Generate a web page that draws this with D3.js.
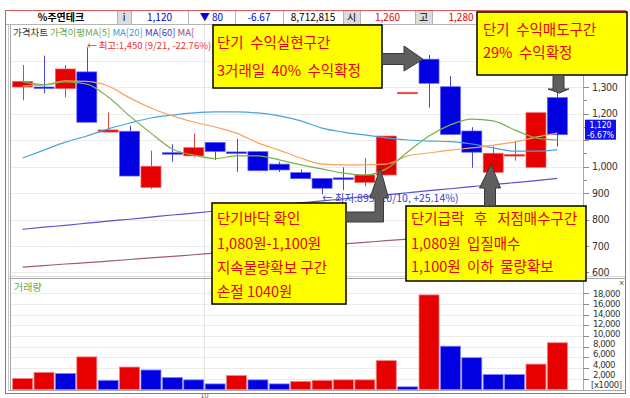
<!DOCTYPE html>
<html><head><meta charset="utf-8">
<script src="https://cdn.jsdelivr.net/npm/d3@7"></script>
<style>
body{margin:0;background:#fff;}
svg{display:block;}
text{font-family:"Liberation Sans",Arial,sans-serif;}
.kr{font-family:"Noto Sans CJK KR",sans-serif;}
.nar{font-family:"Liberation Sans Narrow","DejaVu Sans Condensed","Liberation Sans",sans-serif;}
</style></head><body>
<svg id="c" width="630" height="398"></svg>
<script>
// ---- data ----
const opens  = [1300,1300,1294,1357,1130,1133, 921,1052,1040,1091,1055,1056,1009, 977, 955, 957, 940, 968,1280,1405,1301,1134, 978,1042, 997,1260];
const highs  = [1383,1418,1383,1450,1204,1154,1060,1084,1125,1091,1104,1056,1018, 989, 955, 997,1031,1115,1280,1421,1341,1148,1077,1097,1203,1280];
const lows   = [1250,1276,1261,1167,1128, 964, 915,1018,1035,1024, 980, 984, 979, 954, 895, 911, 924, 968,1280,1222,1121, 995, 978,1022, 995,1075];
const closes = [1321,1296,1368,1167,1138, 964,1001,1048,1071,1057,1051, 984, 987, 954, 918, 953, 968,1115,1280,1314,1121,1054,1050,1045,1203,1120];
const volumes = [2050,3200,3000,6100,1700,4200,3650,2250,1800,1050,2600,1800,1050,1500,1700,1800,1800,5400,500,17700,8100,5950,2800,2800,4750,8750];
const volUp   = [1,1,0,1,0,1,0,0,0,0,1,0,0,1,1,1,1,1,0,1,0,0,0,0,1,1];
const ma5   = [1320,1308,1319,1311,1262,1191,1126,1066,1043,1030,1040,1040,1025,1006, 991, 975, 968, 991,1055,1115,1157,1179,1172,1138,1108,1100];
const ma10  = [1304,1308,1323,1321,1304,1259,1221,1191,1168,1149,1126,1089,1062,1032,1009,1006,1006,1009,1040,1051,1062,1070,1081,1092,1111,1126];
const ma20  = [1032,1062,1092,1115,1142,1164,1183,1194,1202,1206,1206,1202,1191,1172,1145,1130,1119,1108,1100,1096,1094,1085,1070,1058,1058,1064];
const ma60  = [ 763, 771, 778, 786, 794, 801, 809, 817, 824, 832, 840, 847, 855, 863, 870, 878, 886, 893, 901, 909, 916, 924, 932, 939, 947, 955];
const ma120 = [ 620, 626, 632, 637, 643, 649, 655, 661, 667, 673, 679, 685, 690, 696, 702, 708, 714, 720, 726, 732, 737, 743, 749, 755, 761, 767];
const priceTicks = [600,700,800,900,1000,1100,1200,1300,1400];
const hiddenPriceLabels = [1100,1400]; // covered by the price tag / note box in the reference
const volTicks = [2000,4000,6000,8000,10000,12000,14000,16000,18000];
const header = ["%주연테크","i","1,120","▼ 80","-6.67","8,712,815","시","1,260","고","1,280"];
const legendItems = ["가격이평MA[5]","MA[20]","MA[60]","MA["];
const monthLabel = "10";

const RED="#e60000", BLUE="#0000e0";
const svg=d3.select("#c");
const n=closes.length;
const x=d3.scaleBand().domain(d3.range(n)).range([12,568]).paddingInner(0.065).paddingOuter(0.03);
const bw=x.bandwidth();
const cx=i=>x(i)+bw/2;
const y=d3.scaleLinear().domain([1000,1300]).range([166.5,87]);
const vy=d3.scaleLinear().domain([0,18000]).range([389.5,293.3]);
const vyLab=d3.scaleLinear().domain([2000,18000]).range([374.5,293.5]);

svg.append("rect").attr("width",630).attr("height",398).attr("fill","#fff");

// grids
const grid=svg.append("g");
priceTicks.forEach(v=>grid.append("line").attr("x1",11).attr("x2",583).attr("y1",Math.round(y(v))+.5).attr("y2",Math.round(y(v))+.5).attr("stroke","#ececec"));
volTicks.forEach(v=>grid.append("line").attr("x1",11).attr("x2",583).attr("y1",Math.round(vy(v))+.5).attr("y2",Math.round(vy(v))+.5).attr("stroke","#ececec"));
const mx=Math.round(x(9)-(x.step()-bw)/2)+.5;
grid.append("line").attr("x1",mx).attr("x2",mx).attr("y1",25).attr("y2",390).attr("stroke","#e4e4e4");

// panel frames
svg.append("line").attr("x1",583.5).attr("x2",583.5).attr("y1",25).attr("y2",390).attr("stroke","#a8a8a8");
svg.append("line").attr("x1",8).attr("x2",626).attr("y1",278.5).attr("y2",278.5).attr("stroke","#a8a8a8");
svg.append("line").attr("x1",8).attr("x2",626).attr("y1",276.5).attr("y2",276.5).attr("stroke","#d8d8d8");
svg.append("line").attr("x1",8).attr("x2",626).attr("y1",390.5).attr("y2",390.5).attr("stroke","#a8a8a8");
svg.append("line").attr("x1",8.5).attr("x2",8.5).attr("y1",24).attr("y2",391).attr("stroke","#c8c8c8");
svg.append("line").attr("x1",10.5).attr("x2",10.5).attr("y1",24).attr("y2",391).attr("stroke","#a8a8a8");

// price axis
const pa=svg.append("g");
d3.range(600,1401,50).forEach(v=>{
  pa.append("line").attr("x1",584).attr("x2",v%100===0?589:587).attr("y1",Math.round(y(v))+.5).attr("y2",Math.round(y(v))+.5).attr("stroke","#888");
});
priceTicks.filter(v=>!hiddenPriceLabels.includes(v)).forEach(v=>pa.append("text").attr("class","nar").attr("x",592).attr("y",y(v)).attr("dy","0.36em")
  .attr("font-size",10.5).attr("letter-spacing","-0.3").attr("fill","#333").text(d3.format(",")(v)));
// volume axis
volTicks.forEach(v=>{
  pa.append("line").attr("x1",584).attr("x2",589).attr("y1",Math.round(vy(v))+.5).attr("y2",Math.round(vy(v))+.5).attr("stroke","#888");
  pa.append("text").attr("class","nar").attr("x",593).attr("y",vyLab(v)).attr("dy","0.34em").attr("font-size",9.5).attr("letter-spacing","-0.5").attr("fill","#333").text(d3.format(",")(v));
});
pa.append("text").attr("class","nar").attr("x",591).attr("y",385).attr("dy","0.34em").attr("font-size",9.5).attr("letter-spacing","-0.4").attr("fill","#333").text("[x1000]");
pa.append("text").attr("x",619).attr("y",286).attr("font-size",9).attr("fill","#555").text("×");

// volume bars
svg.append("g").selectAll("rect").data(volumes).join("rect")
  .attr("x",(d,i)=>x(i)).attr("width",bw).attr("y",d=>vy(d)).attr("height",d=>vy(0)-vy(d))
  .attr("fill",(d,i)=>volUp[i]?RED:BLUE).attr("stroke",(d,i)=>volUp[i]?"#f08080":"#8080ff").attr("stroke-width",0.8);
svg.append("text").attr("class","kr").attr("x",14).attr("y",287).attr("dy","0.35em").attr("font-size",10).attr("fill","#6aa84f").text("거래량");

// candles
const cg=svg.append("g");
closes.forEach((c,i)=>{
  const o=opens[i], up=c>=o, col=up?RED:BLUE;
  cg.append("line").attr("x1",Math.round(cx(i))+.5).attr("x2",Math.round(cx(i))+.5).attr("y1",y(highs[i])).attr("y2",y(lows[i]))
    .attr("stroke",up?"#e04040":"#4848d8").attr("stroke-width",1);
  const top=y(Math.max(o,c)), h=Math.max(1.5,Math.abs(y(o)-y(c)));
  cg.append("rect").attr("x",x(i)).attr("width",bw).attr("y",top).attr("height",h)
    .attr("fill",col).attr("stroke",up?"#f06060":"#6060ff").attr("stroke-width",0.7);
});

// moving averages
const line=d3.line().x((d,i)=>cx(i)).y(d=>y(d)).curve(d3.curveMonotoneX);
const maCols=["#78b04a","#4aa3de","#5555cc","#a05a78"];
[[ma120,maCols[3]],[ma60,maCols[2]],[ma20,maCols[1]],[ma10,"#f5a45e"],[ma5,maCols[0]]].forEach(([d,c])=>{
  svg.append("path").attr("d",line(d)).attr("fill","none").attr("stroke",c).attr("stroke-width",1.2);
});

// legend (its tail is hidden behind the first note box, as in the reference)
const lg=svg.append("text").attr("class","kr").attr("x",13).attr("y",36).attr("font-size",9.5).style("white-space","pre");
lg.append("tspan").attr("fill","#333").text("가격차트 ");
legendItems.forEach((t,i)=>lg.append("tspan").attr("fill",["#6aa84f","#3a9ad9","#3b3bc4","#9a4a6a"][i]).text(t+(i<3?" ":"")));
svg.append("text").attr("class","kr").attr("x",87).attr("y",46).attr("dy","0.35em").attr("font-size",9.5).attr("fill","#ee3333")
  .text("← 최고:1,450 (9/21, -22.76%)");
svg.append("text").attr("class","kr").attr("x",322).attr("y",198).attr("dy","0.35em").attr("font-size",10.5).attr("fill","#3c3cc8")
  .text("← 최저:895 (10/10, +25.14%)");

// current price tag
svg.append("rect").attr("x",585).attr("y",y(1120)-15).attr("width",31).attr("height",20).attr("fill","#1010f0");
svg.append("text").attr("class","nar").attr("x",600.5).attr("y",y(1120)-10).attr("dy","0.35em").attr("text-anchor","middle").attr("font-size",8.5).attr("fill","#fff").text("1,120");
svg.append("text").attr("class","nar").attr("x",600.5).attr("y",y(1120)).attr("dy","0.35em").attr("text-anchor","middle").attr("font-size",8.5).attr("fill","#fff").text("-6.67%");

// month label
svg.append("text").attr("x",mx).attr("y",397.5).attr("text-anchor","middle").attr("font-size",7).attr("fill","#555").text(monthLabel);

// header row
const cellX=[5,117,131,188,235,283,343,360,415,432,490];
const cellCol=["#000","#000",BLUE,BLUE,BLUE,"#000","#000",RED,"#000",RED];
const grey=[1,6,8];
const hg=svg.append("g");
header.forEach((t,i)=>{
  hg.append("rect").attr("x",cellX[i]+.5).attr("y",10.5).attr("width",cellX[i+1]-cellX[i]).attr("height",14)
    .attr("fill",grey.includes(i)?"#dcdcdc":"#fff").attr("stroke","#b4b4b4");
  hg.append("text").attr("class","kr").attr("x",(cellX[i]+cellX[i+1])/2).attr("y",17.5).attr("dy","0.35em").attr("text-anchor","middle")
    .attr("font-size",10).attr("font-weight",i===0?"bold":"normal").attr("fill",cellCol[i]).text(t);
});

// outer frame
svg.append("rect").attr("x",5.5).attr("y",10.5).attr("width",620).attr("height",383).attr("fill","none").attr("stroke","#d85a5a");

// annotation boxes
function box(x0,y0,x1,y1,lines,tx,ty){
  const g=svg.append("g");
  g.append("rect").attr("x",x0).attr("y",y0).attr("width",x1-x0).attr("height",y1-y0).attr("fill","#ffff00").attr("stroke","#000").attr("stroke-width",1.5);
  lines.forEach((l,k)=>g.append("text").attr("class","kr").attr("x",tx).attr("y",ty[k]).attr("dy","0.36em")
    .attr("font-size",14.5).attr("fill","#e8000a").style("white-space","pre").text(l));
}
function arrow(pts){
  svg.append("polygon").attr("points",pts.map(p=>p.join(",")).join(" ")).attr("fill","#5e5e5e").attr("stroke","#3a3a3a").attr("stroke-width",1);
}
box(213,25,382,88,["단기  수익실현구간","3거래일  40%  수익확정"],217,[43,71]);
box(477,12,627,75,["단기  수익매도구간","29%  수익확정"],483,[30,53]);
box(212,203,346,304,["단기바닥 확인","1,080원-1,100원","지속물량확보 구간","손절 1040원"],217,[219,244,268,292]);
box(406,206,586,281,["단기급락   후   저점매수구간","1,080원  입질매수","1,100원  이하  물량확보"],411,[219,244,267]);

const t1=[cx(19)-10,y(1405)];
arrow([[382,53.5],[404,53.5],[404,46],[t1[0]+4,t1[1]],[404,71],[404,64.5],[382,64.5]]);
const t2=[cx(25)+2,y(1262)-4];
arrow([[553,75],[564,75],[564,89],[569,89],[t2[0],t2[1]],[548,89],[553,89]]);
const t3=[cx(17)-6,y(968)-7];
arrow([[346,212],[375,212],[375,198],[370,198],[t3[0],t3[1]],[388.5,198],[383.5,198],[383.5,222],[346,222]]);
const t4=[cx(22)-2,y(978)-8];
arrow([[484.5,206],[484.5,188],[479.5,188],[t4[0],t4[1]],[500.5,188],[495.5,188],[495.5,206]]);
</script>
</body></html>
